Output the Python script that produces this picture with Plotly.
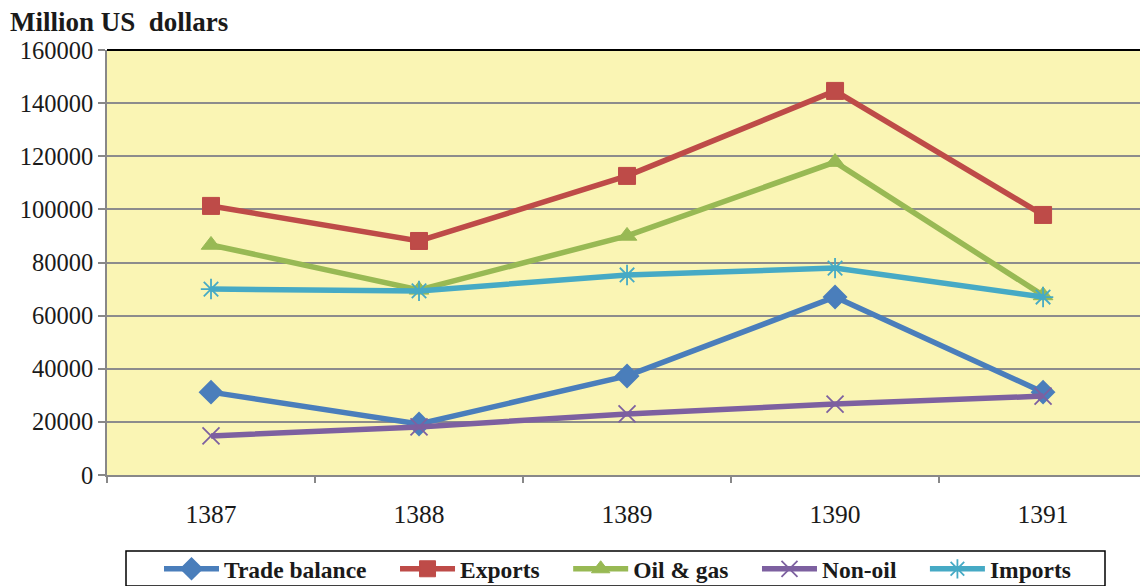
import plotly.graph_objects as go

years = ["1387", "1388", "1389", "1390", "1391"]
trade_balance = [31200, 19200, 37300, 67000, 31200]
exports = [101300, 88100, 112600, 144600, 97900]
oil_gas = [86600, 69700, 90000, 117800, 67600]
non_oil = [14700, 18100, 23000, 26700, 29700]
imports = [70000, 69300, 75300, 77900, 67000]

series = [
    ("Trade balance", trade_balance, "#4a7ebb", "diamond", 17, 2),
    ("Exports", exports, "#be4b48", "square", 17, 1),
    ("Oil & gas", oil_gas, "#98b954", "triangle-up", 17, 1),
    ("Non-oil", non_oil, "#7d60a0", "x-thin-open", 17, 1.8),
    ("Imports", imports, "#46aac5", "asterisk-open", 17, 1.8),
]

PAD = "\u00a0" * 4
fig = go.Figure()
for name, vals, color, sym, size, lw in series:
    fig.add_trace(go.Scatter(
        x=years, y=vals, name=name + PAD, mode="lines+markers",
        line=dict(color=color, width=5.5),
        marker=dict(symbol=sym, size=size, color=color,
                    line=dict(color=color, width=lw)),
    ))

W = 1033.0
H = 425.0
fig.update_layout(
    width=1140, height=586,
    margin=dict(l=107, r=0, t=50, b=111, autoexpand=False),
    paper_bgcolor="white",
    plot_bgcolor="#faf5b4",
    font=dict(family="Liberation Serif", color="#1a1a1a"),
    showlegend=True,
    legend=dict(
        orientation="h", x=(159 - 107) / W, xanchor="left",
        y=-(547 - 475) / H, yanchor="top",
        borderwidth=0, bgcolor="rgba(0,0,0,0)",
        font=dict(family="Liberation Serif", size=23.5, color="#1a1a1a", weight="bold"),
        itemwidth=55,
    ),
    annotations=[dict(
        text="<b>Million US  dollars</b>", xref="paper", yref="paper",
        x=(8 - 107) / W, y=1 + 28 / H, xanchor="left", yanchor="middle",
        showarrow=False, font=dict(size=27, family="Liberation Serif", color="#1a1a1a"),
    )],
    shapes=[
        dict(type="line", xref="paper", yref="paper", x0=0, x1=1, y0=1, y1=1,
             line=dict(color="black", width=2)),
        dict(type="rect", xref="paper", yref="paper",
             x0=(126 - 107) / W, x1=(1105 - 107) / W,
             y0=-(551 - 475) / H, y1=-(586 - 475) / H,
             line=dict(color="black", width=1.5), fillcolor="rgba(0,0,0,0)", layer="above"),
    ],
)

fig.update_xaxes(
    type="category", range=[-0.5, 4.466], automargin=False,
    showline=True, linecolor="#888888", linewidth=1.5,
    ticks="outside", tickson="boundaries", ticklen=6, tickcolor="#888888", tickwidth=1.5,
    tickfont=dict(size=25.5, family="Liberation Serif", color="#1a1a1a"),
    ticklabelstandoff=16, showgrid=False,
)
fig.update_yaxes(
    range=[0, 160000], dtick=20000, tickformat="d", automargin=False,
    showline=True, linecolor="#888888", linewidth=1.5,
    ticks="outside", ticklen=7, tickcolor="#888888", tickwidth=1.5,
    showgrid=True, gridcolor="#8c8c8c", gridwidth=1.5,
    tickfont=dict(size=24.5, family="Liberation Serif", color="#1a1a1a"),
    zeroline=False,
)

fig.write_html("out.html", config={"displayModeBar": False},
               post_script="document.body.style.margin='0';document.body.style.overflow='hidden';")
